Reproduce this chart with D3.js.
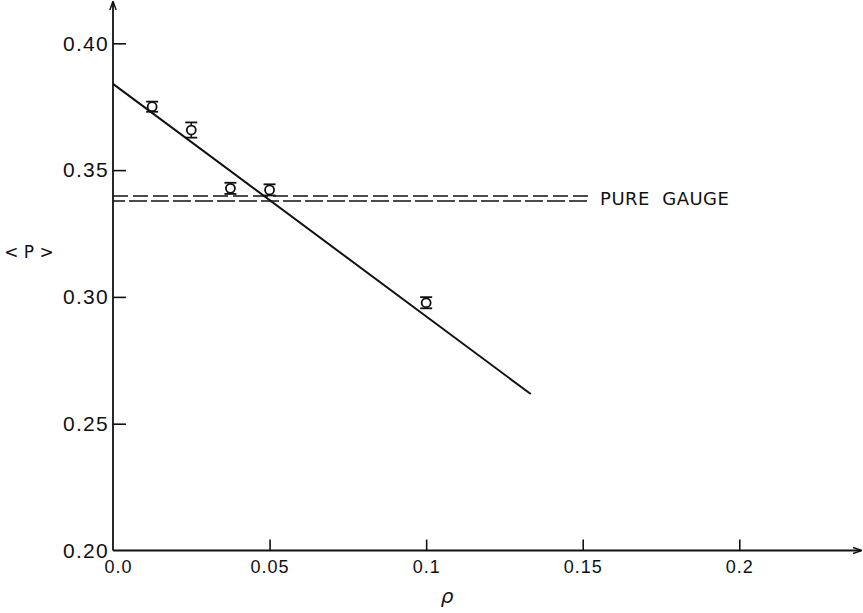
<!DOCTYPE html>
<style>
body { margin: 0; background: #fff; }
svg { font-family: "DejaVu Sans", Arial, sans-serif; }
.tick text { fill: #111; }
.tick line { stroke: #111; stroke-width: 1.6px; }
</style>
<script src="https://d3js.org/d3.v7.min.js"></script>
<svg width="863" height="613"></svg>
<script>
// values
var rho = [0.0125, 0.025, 0.0375, 0.05, 0.1],
    meanP = [0.375, 0.3658, 0.3428, 0.3422, 0.2977],
    errP = [0.002, 0.003, 0.0022, 0.0022, 0.0022];

var fitRho = [0, 0.1334],
    fitP = [0.384, 0.2617];

var gaugeP = [0.3398, 0.3378],
    gaugeEnd = 0.1517;

var xTicks = [0, 0.05, 0.1, 0.15, 0.2],
    xTickLabels = ["0.0", "0.05", "0.1", "0.15", "0.2"],
    yTicks = [0.20, 0.25, 0.30, 0.35, 0.40];

var svg = d3.select("svg");

var x = d3.scaleLinear().domain([0, 0.2]).range([113, 739.3]),
    y = d3.scaleLinear().domain([0.2, 0.4]).range([550.5, 43.3]);

svg.append("defs").append("marker")
    .attr("id", "arrow")
    .attr("viewBox", "0 0 10 10")
    .attr("refX", 9).attr("refY", 5)
    .attr("markerWidth", 9).attr("markerHeight", 9)
    .attr("markerUnits", "userSpaceOnUse")
    .attr("orient", "auto")
  .append("path")
    .attr("d", "M0,1.5L10,5L0,8.5")
    .attr("fill", "none")
    .attr("stroke", "#111")
    .attr("stroke-width", 1.6);

// axis lines with arrows
svg.append("line")
    .attr("x1", x(0)).attr("y1", y(0.2))
    .attr("x2", x(0)).attr("y2", 2)
    .attr("stroke", "#111").attr("stroke-width", 1.8)
    .attr("marker-end", "url(#arrow)");
svg.append("line")
    .attr("x1", x(0)).attr("y1", y(0.2))
    .attr("x2", 861).attr("y2", y(0.2))
    .attr("stroke", "#111").attr("stroke-width", 1.8)
    .attr("marker-end", "url(#arrow)");

var yAxis = svg.append("g")
    .attr("transform", "translate(" + x(0) + ",0)")
    .call(d3.axisLeft(y).tickValues(yTicks).tickFormat(d3.format(".2f"))
      .tickSizeInner(-13).tickSizeOuter(0).tickPadding(4));
yAxis.select(".domain").remove();
yAxis.selectAll(".tick line").filter(function(d) { return d === 0.2; }).remove();
yAxis.selectAll(".tick text").style("font-size", "21px").style("letter-spacing", "1.3px");

var xAxis = svg.append("g")
    .attr("transform", "translate(0," + y(0.2) + ")")
    .call(d3.axisBottom(x).tickValues(xTicks)
      .tickFormat(function(d, i) { return xTickLabels[i]; })
      .tickSizeInner(-11).tickSizeOuter(0).tickPadding(2));
xAxis.select(".domain").remove();
xAxis.selectAll(".tick line").filter(function(d) { return d === 0; }).remove();
xAxis.selectAll(".tick text").style("font-size", "18px").style("letter-spacing", "1px")
    .attr("dy", "1.15em")
    .filter(function(d) { return d === 0; }).attr("dx", 5);

// axis titles
svg.append("text")
    .attr("x", 29).attr("y", 252)
    .attr("text-anchor", "middle").attr("dy", "0.35em")
    .style("font-size", "17px").attr("fill", "#111")
    .text("< P >");
svg.append("text")
    .attr("x", 447).attr("y", 603)
    .attr("text-anchor", "middle")
    .style("font-size", "20px").style("font-style", "italic").attr("fill", "#111")
    .text("ρ");

// pure gauge dashed lines
svg.selectAll(".gauge")
    .data(gaugeP)
  .enter().append("line")
    .attr("class", "gauge")
    .attr("x1", x(0)).attr("x2", x(gaugeEnd))
    .attr("y1", function(d) { return y(d); })
    .attr("y2", function(d) { return y(d); })
    .attr("stroke", "#111").attr("stroke-width", 1.5)
    .attr("stroke-dasharray", function(d, i) { return i ? "18,4" : "15,5"; })
    .attr("stroke-dashoffset", function(d, i) { return i ? 6 : 0; });
svg.append("text")
    .attr("x", x(gaugeEnd) + 12).attr("y", y(d3.mean(gaugeP)))
    .attr("dy", "0.35em")
    .style("font-size", "18px").style("letter-spacing", "0.5px").style("word-spacing", "6px")
    .attr("fill", "#111")
    .text("PURE GAUGE");

// fitted line
svg.append("line")
    .attr("x1", x(fitRho[0])).attr("y1", y(fitP[0]))
    .attr("x2", x(fitRho[1])).attr("y2", y(fitP[1]))
    .attr("stroke", "#111").attr("stroke-width", 2);

// data points with error bars
var pts = svg.selectAll(".pt")
    .data(rho)
  .enter().append("g")
    .attr("class", "pt");

pts.append("line")
    .attr("x1", function(d) { return x(d); }).attr("x2", function(d) { return x(d); })
    .attr("y1", function(d, i) { return y(meanP[i] + errP[i]); })
    .attr("y2", function(d, i) { return y(meanP[i] - errP[i]); })
    .attr("stroke", "#111").attr("stroke-width", 1.5);
[1, -1].forEach(function(s) {
  pts.append("line")
      .attr("x1", function(d) { return x(d) - 6; }).attr("x2", function(d) { return x(d) + 6; })
      .attr("y1", function(d, i) { return y(meanP[i] + s * errP[i]); })
      .attr("y2", function(d, i) { return y(meanP[i] + s * errP[i]); })
      .attr("stroke", "#111").attr("stroke-width", 1.8);
});
pts.append("circle")
    .attr("cx", function(d) { return x(d); })
    .attr("cy", function(d, i) { return y(meanP[i]); })
    .attr("r", 4.5)
    .attr("fill", "#fff")
    .attr("stroke", "#111").attr("stroke-width", 1.8);
</script>
